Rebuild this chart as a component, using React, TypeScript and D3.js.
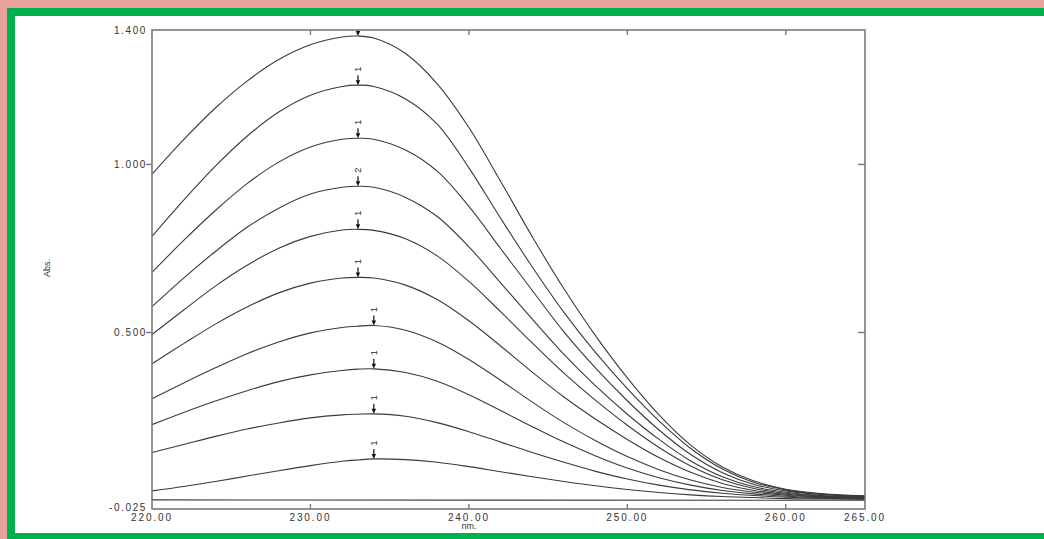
import React from 'react';
import * as d3 from 'd3';

// wavelength grid (nm) shared by every scan
const wavelengths = [220, 222, 224, 226, 228, 230, 232, 233, 234, 236, 238, 240, 242, 244, 246, 248, 250, 252, 254, 256, 258, 260, 262, 265];

const abs1 = [0.971, 1.074, 1.168, 1.248, 1.312, 1.356, 1.379, 1.382, 1.376, 1.33, 1.24, 1.11, 0.95, 0.785, 0.63, 0.49, 0.365, 0.255, 0.165, 0.10, 0.058, 0.034, 0.022, 0.014];
const abs2 = [0.786, 0.894, 0.995, 1.084, 1.156, 1.206, 1.232, 1.236, 1.232, 1.195, 1.12, 0.99, 0.84, 0.695, 0.56, 0.44, 0.333, 0.237, 0.155, 0.094, 0.054, 0.032, 0.02, 0.013];
const abs3 = [0.679, 0.774, 0.863, 0.943, 1.007, 1.052, 1.075, 1.078, 1.075, 1.043, 0.98, 0.875, 0.75, 0.625, 0.502, 0.394, 0.297, 0.21, 0.137, 0.083, 0.048, 0.029, 0.019, 0.012];
const abs4 = [0.577, 0.662, 0.741, 0.813, 0.870, 0.912, 0.932, 0.935, 0.932, 0.902, 0.845, 0.755, 0.648, 0.54, 0.435, 0.341, 0.257, 0.182, 0.118, 0.071, 0.041, 0.025, 0.016, 0.011];
const abs5 = [0.494, 0.567, 0.638, 0.700, 0.751, 0.786, 0.805, 0.807, 0.804, 0.779, 0.728, 0.652, 0.562, 0.469, 0.379, 0.298, 0.224, 0.158, 0.103, 0.062, 0.036, 0.022, 0.014, 0.01];
const abs6 = [0.407, 0.467, 0.525, 0.576, 0.618, 0.647, 0.662, 0.664, 0.662, 0.641, 0.598, 0.535, 0.46, 0.382, 0.308, 0.242, 0.182, 0.128, 0.084, 0.051, 0.03, 0.019, 0.012, 0.008];
const abs7 = [0.303, 0.350, 0.395, 0.437, 0.472, 0.499, 0.515, 0.519, 0.521, 0.507, 0.472, 0.42, 0.358, 0.293, 0.232, 0.178, 0.131, 0.092, 0.061, 0.039, 0.025, 0.016, 0.011, 0.007];
const abs8 = [0.226, 0.262, 0.296, 0.327, 0.354, 0.374, 0.387, 0.391, 0.392, 0.381, 0.355, 0.315, 0.268, 0.22, 0.174, 0.133, 0.097, 0.068, 0.046, 0.03, 0.02, 0.013, 0.009, 0.006];
const abs9 = [0.143, 0.167, 0.191, 0.213, 0.231, 0.246, 0.255, 0.257, 0.258, 0.251, 0.232, 0.205, 0.174, 0.143, 0.114, 0.087, 0.064, 0.046, 0.032, 0.022, 0.015, 0.01, 0.007, 0.005];
const abs10 = [0.029, 0.042, 0.057, 0.073, 0.089, 0.104, 0.117, 0.121, 0.124, 0.122, 0.114, 0.101, 0.086, 0.071, 0.057, 0.044, 0.033, 0.024, 0.017, 0.012, 0.009, 0.006, 0.005, 0.004];

const baselineNm = [220, 265];
const baselineAbs = [0.002, 0.001];

// peak pick markers
const peakNm = [233, 233, 233, 233, 233, 233, 234, 234, 234, 234];
const peakAbs = [1.382, 1.236, 1.078, 0.935, 0.807, 0.664, 0.521, 0.392, 0.258, 0.124];
const peakLabels = ['', '1', '1', '2', '1', '1', '1', '1', '1', '1'];

const xTicks = [220, 230, 240, 250, 260, 265];
const xTickLabels = ['220.00', '230.00', '240.00', '250.00', '260.00', '265.00'];
const yTicks = [1.4, 1.0, 0.5, -0.025];
const yTickLabels = ['1.400', '1.000', '0.500', '-0.025'];

const W = 1044;
const H = 539;
const left = 152, right = 865, top = 30, bottom = 509;

export default function App() {
  const x = d3.scaleLinear().domain([220, 265]).range([left, right]);
  const y = d3.scaleLinear().domain([-0.025, 1.4]).range([bottom, top]);

  const series = [abs1, abs2, abs3, abs4, abs5, abs6, abs7, abs8, abs9, abs10];
  const line = d3.line<[number, number]>()
    .x(d => x(d[0]))
    .y(d => y(d[1]))
    .curve(d3.curveCatmullRom.alpha(0.5));

  const font = '"Liberation Sans", Arial, sans-serif';
  const axisColor = '#7a7a7a';
  const innerTicks = [230, 240, 250, 260];

  return (
    <div style={{ position: 'fixed', left: 0, top: 0, width: W, height: H }}>
      <svg width={W} height={H} style={{ display: 'block' }}>
        <rect x={0} y={0} width={W} height={H} fill="#e9a19c" />
        <rect x={7} y={8} width={W} height={H} fill="#00b050" />
        <rect x={15} y={16} width={W} height={517} fill="#ffffff" />

        {series.map((s, i) => (
          <path key={i}
            d={line(wavelengths.map((w, j) => [w, s[j]] as [number, number])) ?? ''}
            fill="none" stroke="#3a3a3a" strokeWidth={1.1} />
        ))}
        <path d={line(baselineNm.map((w, j) => [w, baselineAbs[j]] as [number, number])) ?? ''}
          fill="none" stroke="#3a3a3a" strokeWidth={1.1} />

        {peakNm.map((w, i) => {
          const px = x(w);
          const py = y(peakAbs[i]);
          return (
            <g key={i}>
              <line x1={px} x2={px} y1={Math.max(top, py - 10)} y2={py - 3} stroke="#111" strokeWidth={1.2} />
              <path d={`M${px - 2.2},${py - 5}L${px + 2.2},${py - 5}L${px},${py}Z`} fill="#111" />
              {peakLabels[i] && (
                <text transform={`translate(${px + 3},${py - 16}) rotate(-90)`}
                  fontFamily={font} fontSize={9} fill="#222" textAnchor="middle">{peakLabels[i]}</text>
              )}
            </g>
          );
        })}

        {/* frame */}
        <rect x={left} y={top} width={right - left} height={bottom - top}
          fill="none" stroke={axisColor} strokeWidth={1.6} />

        {yTicks.map((v, i) => (
          <g key={i}>
            {i > 0 && i < yTicks.length - 1 && (
              <>
                <line x1={left - 6} x2={left} y1={y(v)} y2={y(v)} stroke={axisColor} strokeWidth={1.4} />
                <line x1={right - 7} x2={right} y1={y(v)} y2={y(v)} stroke={axisColor} strokeWidth={1.4} />
              </>
            )}
            <text x={left - 5} y={i === yTicks.length - 1 ? y(v) + 2 : y(v) + 3.5} textAnchor="end"
              fontFamily={font} fontSize={10} letterSpacing={1.6} fill="#333">{yTickLabels[i]}</text>
          </g>
        ))}

        {innerTicks.map((v, i) => (
          <g key={i}>
            <line x1={x(v)} x2={x(v)} y1={bottom} y2={bottom - 5} stroke={axisColor} strokeWidth={1.4} />
            <line x1={x(v)} x2={x(v)} y1={top} y2={top + 5} stroke={axisColor} strokeWidth={1.4} />
          </g>
        ))}

        {xTicks.map((v, i) => (
          <text key={i} x={x(v)} y={521} textAnchor="middle" fontFamily={font} fontSize={10}
            letterSpacing={1.9} fill="#333">{xTickLabels[i]}</text>
        ))}

        <text x={x(240)} y={529} textAnchor="middle" fontFamily={font} fontSize={9} fill="#333">nm.</text>
        <text transform="translate(50,268) rotate(-90)" textAnchor="middle" fontFamily={font}
          fontSize={9} fill="#333">Abs.</text>
      </svg>
    </div>
  );
}
